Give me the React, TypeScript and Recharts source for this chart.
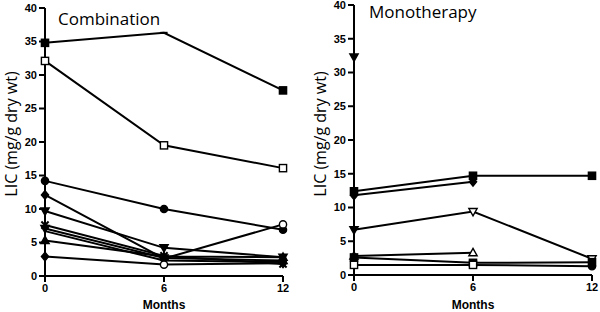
import React from 'react';
import { LineChart, Line, XAxis, YAxis } from 'recharts';

// ---- data ----
const months = [0, 6, 12];
const yTicks = [0, 5, 10, 15, 20, 25, 30, 35, 40];

// Combination panel
const combA = [34.8, 36.3, 27.7];
const combB = [32.1, 19.5, 16.1];
const combC = [14.2, 10.0, 6.9];
const combD = [12.1, 2.6, 7.7];
const combE = [9.7, 4.2, 2.8];
const combF = [7.6, 3.0, 1.8];
const combG = [7.1, 2.7, 2.3];
const combH = [6.7, 2.3, 2.1];
const combI = [5.3, 2.9, 2.8];
const combJ = [2.9, 1.7, 1.9];

// Monotherapy panel
const monoA = [12.4, 14.7, 14.7];
const monoB = [11.8, 13.8, null];
const monoC = [6.7, 9.4, 2.4];
const monoD = [2.8, 3.3, null];
const monoE = [2.6, 1.8, 1.9];
const monoF = [1.5, 1.5, 1.3];
const monoG = [32.3, null, null];

type Shape = 'square' | 'circle' | 'triUp' | 'triDown' | 'diamond' | 'x' | 'dash' | 'none';
interface SeriesDef {
  key: string;
  values: (number | null)[];
  shapes: Shape[];
  filled: boolean[];
}

const combSeries: SeriesDef[] = [
  { key: 'A', values: combA, shapes: ['square', 'dash', 'square'], filled: [true, true, true] },
  { key: 'B', values: combB, shapes: ['square', 'square', 'square'], filled: [false, false, false] },
  { key: 'C', values: combC, shapes: ['circle', 'circle', 'circle'], filled: [true, true, true] },
  { key: 'D', values: combD, shapes: ['diamond', 'circle', 'circle'], filled: [true, true, false] },
  { key: 'E', values: combE, shapes: ['triDown', 'triDown', 'triDown'], filled: [true, true, true] },
  { key: 'F', values: combF, shapes: ['x', 'x', 'x'], filled: [true, true, true] },
  { key: 'G', values: combG, shapes: ['triDown', 'triDown', 'triUp'], filled: [true, true, true] },
  { key: 'H', values: combH, shapes: ['none', 'none', 'none'], filled: [true, true, true] },
  { key: 'I', values: combI, shapes: ['triUp', 'triUp', 'triUp'], filled: [true, true, true] },
  { key: 'J', values: combJ, shapes: ['diamond', 'circle', 'diamond'], filled: [true, false, true] },
];

const monoSeries: SeriesDef[] = [
  { key: 'A', values: monoA, shapes: ['square', 'square', 'square'], filled: [true, true, true] },
  { key: 'B', values: monoB, shapes: ['diamond', 'diamond', 'diamond'], filled: [true, true, true] },
  { key: 'C', values: monoC, shapes: ['triDown', 'triDown', 'triDown'], filled: [true, false, false] },
  { key: 'D', values: monoD, shapes: ['triUp', 'triUp', 'triUp'], filled: [true, false, false] },
  { key: 'E', values: monoE, shapes: ['square', 'square', 'square'], filled: [true, true, true] },
  { key: 'F', values: monoF, shapes: ['square', 'square', 'circle'], filled: [false, false, true] },
  { key: 'G', values: monoG, shapes: ['triDown', 'triDown', 'triDown'], filled: [true, true, true] },
];

function buildRows(series: SeriesDef[]) {
  return months.map((m, i) => {
    const row: Record<string, number | null> = { month: m };
    series.forEach((s) => {
      row[s.key] = s.values[i];
    });
    return row;
  });
}

function Marker({ cx, cy, shape, filled }: { cx: number; cy: number; shape: Shape; filled: boolean }) {
  if (cx == null || cy == null || isNaN(cx) || isNaN(cy)) return null;
  const s = 3.6;
  const fill = filled ? '#000' : '#fff';
  const common = { fill, stroke: '#000', strokeWidth: 1.4 };
  switch (shape) {
    case 'square':
      return <rect x={cx - s} y={cy - s} width={2 * s} height={2 * s} {...common} />;
    case 'circle':
      return <circle cx={cx} cy={cy} r={s} {...common} />;
    case 'triUp':
      return <polygon points={`${cx},${cy - s * 1.2} ${cx + s * 1.15},${cy + s * 0.85} ${cx - s * 1.15},${cy + s * 0.85}`} {...common} />;
    case 'triDown':
      return <polygon points={`${cx},${cy + s * 1.2} ${cx + s * 1.15},${cy - s * 0.85} ${cx - s * 1.15},${cy - s * 0.85}`} {...common} />;
    case 'diamond':
      return <polygon points={`${cx},${cy - s * 1.2} ${cx + s},${cy} ${cx},${cy + s * 1.2} ${cx - s},${cy}`} {...common} />;
    case 'x':
      return (
        <g stroke="#000" strokeWidth={2}>
          <line x1={cx - s} y1={cy - s} x2={cx + s} y2={cy + s} />
          <line x1={cx - s} y1={cy + s} x2={cx + s} y2={cy - s} />
        </g>
      );
    case 'dash':
      return <line x1={cx - s} y1={cy} x2={cx + s} y2={cy} stroke="#000" strokeWidth={2} />;
    default:
      return null;
  }
}

const tickFont = { fontFamily: '"Liberation Sans", Arial, sans-serif', fontWeight: 'bold' as const, fill: '#000' };
const labelFont = '"Open Sans", "Noto Sans", sans-serif';

function Panel({
  series,
  title,
  titleX,
  titleY,
  labelX,
  marginLeft,
  marginTop,
  marginRight,
  xHeight,
}: {
  series: SeriesDef[];
  title: string;
  titleX: number;
  titleY: number;
  labelX: number;
  marginLeft: number;
  marginTop: number;
  marginRight: number;
  xHeight: number;
}) {
  const rows = buildRows(series);
  return (
    <LineChart width={300} height={312} data={rows} margin={{ top: marginTop, right: marginRight, bottom: 0, left: 0 }}>
      <XAxis
        dataKey="month"
        type="number"
        domain={[0, 12]}
        ticks={months}
        height={xHeight}
        tickSize={6}
        tickMargin={2}
        axisLine={{ stroke: '#000', strokeWidth: 2 }}
        tickLine={{ stroke: '#000', strokeWidth: 2 }}
        tick={{ ...tickFont, fontSize: 11 }}
        label={{
          value: 'Months',
          position: 'insideBottom',
          offset: 3,
          style: { ...tickFont, fontSize: 12 },
        }}
      />
      <YAxis
        type="number"
        domain={[0, 40]}
        ticks={yTicks}
        width={marginLeft}
        tickSize={6}
        tickMargin={2}
        interval={0}
        axisLine={{ stroke: '#000', strokeWidth: 2 }}
        tickLine={{ stroke: '#000', strokeWidth: 2 }}
        tick={{ ...tickFont, fontSize: 11 }}
        label={{
          content: () => (
            <g>
              <text
                x={labelX}
                y={134}
                transform={`rotate(-90 ${labelX} 134)`}
                textAnchor="middle"
                fontFamily={labelFont}
                fontSize={16}
                fill="#000"
              >
                LIC (mg/g dry wt)
              </text>
              <text x={titleX} y={titleY} fontFamily={labelFont} fontSize={17} fill="#000">
                {title}
              </text>
            </g>
          ),
        }}
      />
      {series.map((s) => (
        <Line
          key={s.key}
          dataKey={s.key}
          type="linear"
          stroke="#000"
          strokeWidth={2}
          isAnimationActive={false}
          activeDot={false}
          connectNulls={false}
          dot={(p: any) => (
            <Marker
              key={`${s.key}-${p.index}`}
              cx={p.cx}
              cy={p.cy}
              shape={s.shapes[p.index]}
              filled={s.filled[p.index]}
            />
          )}
        />
      ))}
    </LineChart>
  );
}

export default function App() {
  return (
    <div style={{ position: 'absolute', left: 0, top: 0, width: 600, height: 312, background: '#fff' }}>
      <div style={{ position: 'absolute', left: 0, top: 0 }}>
        <Panel
          series={combSeries}
          title="Combination"
          titleX={58}
          titleY={25}
          labelX={17}
          marginLeft={45}
          marginTop={8}
          marginRight={17}
          xHeight={36}
        />
      </div>
      <div style={{ position: 'absolute', left: 300, top: 0 }}>
        <Panel
          series={monoSeries}
          title="Monotherapy"
          titleX={69}
          titleY={18}
          labelX={26}
          marginLeft={54}
          marginTop={5}
          marginRight={8}
          xHeight={37}
        />
      </div>
    </div>
  );
}
